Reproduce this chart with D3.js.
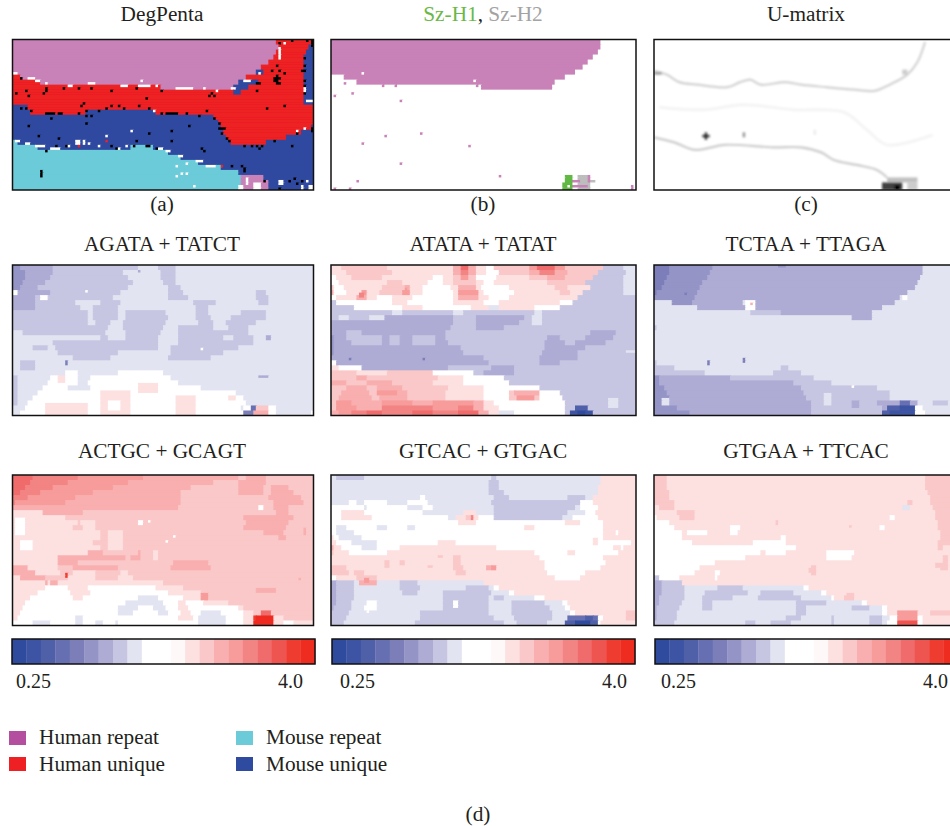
<!DOCTYPE html>
<html>
<head>
<meta charset="utf-8">
<script src="https://cdn.jsdelivr.net/npm/d3@7"></script>
<style>
html, body { margin: 0; padding: 0; background: #fff; overflow: hidden; }
text { font-family: "Liberation Serif", serif; font-size: 21.3px; fill: #231f20; }
text.tick { font-size: 20px; }
</style>
</head>
<body>
<div id="chart"></div>
<script>
// fold change steps of the colour bar, blue to red, letter a = first step
var foldColors = ['#2f4b9e', '#3c54a3', '#4f60a9', '#666fb2', '#7c7eba', '#9494c6', '#aeacd4', '#c7c6e2', '#e3e4f1', '#ffffff', '#ffffff', '#fef8f8', '#fde0e0', '#fac8c8', '#f9afaf', '#f79b9b', '#f38484', '#f06c6c', '#ee5450', '#ef3c30', '#ee2c20'];
var foldLetters = 'abcdefghijklmnopqrstu';
var legendNames = ['Human repeat', 'Human unique', 'Mouse repeat', 'Mouse unique'];
var legendColors = ['#b44f9f', '#ef2024', '#6ccbd9', '#2f4ba0'];
var subLabels = ['(a)', '(b)', '(c)'];
var barTicks = ['0.25', '4.0'];

// map rows: "letter + end column", two grid rows per string, 120 x 60 grid
var degPentaRows = ['p105 r119 b120', 'p106 r118 b120', 'p105 r117 b120', 'p104 r116 b120', 'p102 r116 b120', 'p99 r116 b120', 'p97 b100 r116 b120', 'r3 p93 r116 b120', 'r11 p90 b98 r116 b120', 'r59 p88 b94 r116 b120', 'r88 b91 r116 b120', 'r116 b120', 'r116 b120', 'b6 r120', 'b7 r29 b57 r120', 'b80 r120', 'b82 r120', 'b83 r119 b120', 'b84 r115 b120', 'b85 r109 b120', 'c2 b87 r101 b120', 'c10 b47 c56 b120', 'c62 b120', 'c67 b120', 'c74 b120', 'c83 b120', 'c90 b120', 'c91 p100 b120', 'c91 p102 b120', 'c90 p102 b120'];
var degPentaWhite = [[0, 2, 13, 14], [6, 9, 15, 16], [9, 11, 16, 17], [13, 14, 17, 18], [22, 24, 18, 19], [30, 33, 17, 18], [43, 46, 18, 19], [50, 55, 18, 19], [51, 52, 16, 17], [57, 58, 18, 19], [65, 72, 19, 20], [76, 77, 19, 20], [81, 82, 20, 21], [87, 89, 19, 20], [92, 95, 16, 17], [98, 99, 13, 14], [106, 107, 3, 8], [108, 109, 1, 2], [117, 120, 24, 25], [116, 117, 19, 21], [56, 57, 28, 29], [1, 3, 40, 41], [5, 7, 41, 42], [9, 13, 42, 43], [15, 19, 43, 44], [21, 23, 42, 43], [30, 31, 41, 42], [34, 35, 42, 43], [42, 43, 43, 44], [45, 46, 42, 43], [58, 60, 43, 44], [61, 63, 44, 45], [66, 68, 46, 47], [73, 76, 48, 49], [77, 81, 50, 51], [47, 48, 36, 37], [37, 38, 38, 39], [25, 27, 40, 42], [28, 29, 40, 42], [65, 66, 50, 51], [69, 70, 49, 50], [65, 66, 54, 55], [67, 68, 53, 54], [69, 70, 53, 54], [72, 73, 58, 59], [90, 92, 58, 60], [93, 94, 55, 58], [96, 99, 57, 60], [106, 108, 56, 58], [115, 116, 58, 60], [118, 120, 58, 60], [117, 118, 56, 57], [113, 114, 36, 37], [116, 117, 35, 36]];
var degPentaBlack = [[3, 15], [1, 21], [5, 20], [6, 22], [12, 21], [13, 19], [13, 20], [20, 19], [26, 19], [31, 19], [39, 20], [49, 19], [59, 20], [53, 23], [79, 21], [78, 22], [80, 22], [28, 25], [27, 26], [3, 27], [5, 27], [7, 28], [13, 29], [14, 29], [15, 29], [16, 29], [15, 31], [18, 29], [19, 29], [26, 29], [29, 28], [29, 30], [31, 30], [29, 33], [34, 28], [37, 27], [39, 26], [42, 26], [44, 27], [50, 26], [54, 27], [59, 29], [61, 29], [62, 29], [63, 29], [64, 29], [65, 29], [69, 29], [74, 30], [77, 28], [80, 31], [82, 33], [82, 35], [83, 35], [84, 35], [83, 37], [85, 39], [86, 40], [101, 27], [108, 26], [6, 34], [10, 38], [18, 39], [17, 42], [21, 42], [13, 44], [39, 42], [41, 43], [49, 40], [48, 42], [53, 42], [54, 42], [57, 43], [54, 37], [63, 36], [63, 40], [70, 34], [75, 43], [76, 44], [87, 50], [91, 50], [92, 51], [92, 52], [92, 42], [95, 42], [97, 42], [98, 43], [99, 42], [104, 40], [111, 42], [113, 37], [119, 36], [119, 35], [100, 56], [110, 56], [112, 55], [113, 57], [115, 56], [106, 59], [116, 7], [116, 10], [116, 12], [115, 12], [116, 16], [116, 18], [116, 21], [104, 15], [105, 15], [106, 15], [104, 16], [105, 16], [105, 17], [106, 17], [106, 12], [108, 13], [105, 14], [103, 12], [97, 17], [98, 17], [97, 20], [105, 10], [106, 1], [111, 0], [117, 0], [119, 0], [119, 1], [119, 2], [11, 52], [11, 53], [11, 54]];
var degPentaRed = [[26, 42], [37, 40], [83, 50]];

var szRows = ['p106 w120', 'p106 w120', 'p105 w120', 'p103 w120', 'p101 w120', 'p99 w120', 'p96 w120', 'w5 p92 w120', 'w10 p88 w120', 'w59 p87 w120', 'w120', 'w120', 'w120', 'w120', 'w120', 'w120', 'w120', 'w120', 'w120', 'w120', 'w120', 'w120', 'w120', 'w120', 'w120', 'w120', 'w120', 'w120', 'w120', 'w120'];
var szDots = [[5, 17], [8, 21], [1, 22], [27, 24], [35, 37], [21, 38], [12, 41], [54, 42], [27, 49], [10, 56], [66, 54], [1, 59], [7, 59], [118, 58], [118, 59], [65, 19], [12, 16], [20, 18], [25, 18], [57, 18]];
var szWhite = [[12, 13], [56, 16]];
var szH1 = [[92, 95, 54, 57], [91, 95, 57, 60]];
var szH2 = [[97, 102, 54, 60], [102, 104, 56, 57]];
var szBoth = [[95, 98, 56, 57], [95, 98, 58, 59], [101, 102, 54, 57], [98, 101, 58, 59]];

// U-matrix ridges in grid coordinates
var ridgeTop = [[0, 12.5], [5, 14], [10, 17], [17, 18], [29, 19], [34, 17], [38, 16], [42, 18], [52, 17], [58, 18], [68, 19], [79, 20], [87, 20.5], [93, 18], [100, 14], [104, 9], [107, 1]];
var ridgeBottom = [[0, 39], [8, 41], [16, 44], [28, 42], [47, 43], [58, 43], [66, 45], [71, 48], [80, 50], [88, 52], [92, 55]];
var ridgeFaint = [[2, 27], [20, 28], [35, 26], [55, 28], [75, 29], [84, 36], [92, 42], [110, 38]];
// [col0, col1, row0, row1, darkness]
var uMatrixCells = [[0, 3, 13, 14, 0.4], [92, 104, 55, 57, 0.25], [100, 104, 57, 60, 0.2], [90, 98, 57, 60, 0.75], [95, 97, 58, 60, 1], [20, 21, 37, 40, 0.7], [19, 22, 38, 39, 0.7], [20, 21, 38, 39, 1], [35, 36, 37, 39, 0.4], [63, 64, 36, 38, 0.08], [98, 100, 12, 14, 0.2]];

var agataRows = ['f3 g16 h50 i58 h65 i120', 'f5 g16 h44 i59 h65 i120', 'f5 g15 h46 i59 h65 i120', 'f4 g13 h48 i60 h65 i120', 'f3 g10 h46 i62 h67 i120', 'k2 g15 h43 i62 h68 i97 h101 i120', 'g9 h40 i62 h70 i97 h102 i120', 'g9 h25 i35 h43 i72 h81 i98 h102 i120', 'g9 h27 i32 h42 i73 h78 i120', 'h30 i32 h42 i45 h61 i73 h78 i91 h101 i120', 'h30 i32 h42 i45 h62 i73 h79 i87 h101 i120', 'h30 i33 h39 i44 h61 i74 h80 i85 h97 i120', 'h38 i44 h60 i66 h80 i86 h94 i120', 'i4 h37 i45 h59 i66 h94 i120', 'i35 h38 i45 h58 i66 h84 i88 h96 i120', 'i16 h58 i66 h96 i120', 'i8 h14 i17 h58 i63 h90 i120', 'i18 h42 i63 h84 i120', 'i24 h39 i62 h79 i120', 'i3 h9 i120', 'i3 h9 i120', 'i21 k26 i42 k60 i120', 'i15 k26 i31 k63 i120', 'i14 k26 i30 k66 i120', 'i12 k22 i31 k75 i120', 'i10 k89 i120', 'i8 k92 i120', 'i6 k93 i120', 'i5 k91 i92 k105 i120', 'i3 k92 e96 o102 k105 i119 k120'];
var agataPatches = [[0, 2, 44, 56, 'h'], [11, 14, 12, 14, 'k'], [18, 21, 44, 47, 'm'], [50, 58, 47, 51, 'm'], [35, 47, 50, 60, 'm'], [38, 43, 54, 58, 'k'], [13, 30, 55, 60, 'm'], [65, 73, 52, 60, 'm'], [86, 89, 52, 54, 'm'], [95, 97, 56, 58, 'd'], [97, 102, 56, 58, 'n'], [21, 22, 38, 40, 'e'], [50, 51, 2, 3, 'g'], [29, 30, 10, 11, 'k'], [75, 76, 33, 34, 'k'], [98, 102, 44, 45, 'g'], [101, 103, 28, 30, 'g']];

var atataRows = ['m4 n22 m48 o51 r54 o57 m61 k64 n78 p81 r88 p92 n107 h115 i120', 'm6 n24 m48 o51 q54 o57 m61 k66 n78 o82 q88 o93 n105 h116 i120', 'k2 m8 n20 m40 k44 m48 n51 p54 n57 k65 m78 n85 o92 n103 h115 i120', 'k3 m22 n28 m38 k44 m48 n57 m60 k64 m85 n100 h115 i120', 'n1 k5 m20 n29 o31 m36 k47 m50 o57 m59 k70 m88 n93 m102 h115 i120', 'o1 k6 m12 p14 m19 n28 p31 m36 k48 m50 p58 m60 k72 m90 n94 m99 h115 i120', 'k2 m10 o14 m18 k24 m32 k48 m50 o58 m62 k70 m97 h120', 'h2 k24 m30 k48 m60 k66 m90 k95 h120', 'h9 k28 m36 k55 m62 i66 m80 k90 h120', 'h24 i28 h48 i52 h80 i83 h120', 'h3 i7 h15 i21 g48 h57 g76 h79 i83 h120', 'g48 h57 g74 h79 i83 h120', 'g47 h57 g68 h120', 'g6 h12 g45 h61 h102 g112 h120', 'f1 g6 h20 g23 h27 g32 h41 g45 h61 h85 g90 h100 g111 h120', 'f1 g8 h20 g23 h27 g32 h41 g46 h61 h84 g92 h96 g108 h120', 'f1 g51 h84 g100 h120', 'f1 g52 h83 g97 h120', 'g60 h82 g97 h120', 'k2 g62 h82 g90 h120', 'm3 k12 g46 h63 g72 h120', 'n10 m22 n40 k56 h60 g72 h120', 'n10 o14 n42 m52 k68 h120', 'o6 n14 o24 n40 m52 k70 h120', 'n6 o14 n18 o28 n46 m60 k82 h120', 'n4 o15 n18 p26 o30 n45 m60 k70 n72 o82 k90 h120', 'n3 o16 n19 o30 n45 m60 k70 n73 p80 n82 k91 h120', 'n2 p8 o20 p32 o40 p56 o60 m64 k92 h120', 'n2 p10 o20 q40 p50 q56 o60 m66 k92 h120', 'o3 p8 q14 r20 q32 r40 q50 r58 o62 m66 i72 k92 h120'];
var atataPatches = [[96, 101, 56, 58, 'c'], [94, 103, 58, 60, 'b'], [97, 100, 58, 60, 'a'], [7, 8, 37, 38, 'e'], [36, 37, 37, 38, 'e'], [109, 113, 53, 57, 'i'], [64, 72, 40, 44, 'g'], [0, 1, 30, 36, 'f'], [11, 13, 11, 13, 'q'], [29, 30, 9, 11, 'p'], [116, 120, 34, 35, 'i']];

var tctaaRows = ['e6 f23 g106 i120', 'e6 f22 g106 i120', 'e5 f21 g105 i120', 'e4 f19 g104 i120', 'e3 f18 g103 i120', 'e1 f17 g100 i120', 'f16 g97 i120', 'i7 f15 g35 i39 g95 i120', 'i17 g90 i120', 'i38 h50 g86 i120', 'i78 g86 i120', 'i120', 'h1 i120', 'i120', 'i120', 'i120', 'i120', 'i120', 'i120', 'h1 i120', 'h8 i50 h53 i120', 'h20 i47 h58 i120', 'f2 g30 h63 i120', 'f2 g55 h70 i120', 'f4 g58 h88 i120', 'f5 g59 h93 i120', 'f6 g60 h93 i120', 'f6 g62 h88 g97 d101 g104 i110 h116 i120', 'f9 g62 h90 g92 c97 b103 k106 i120', 'f14 g62 h90 c93 b103 k107 i120'];
var tctaaPatches = [[36, 40, 14, 18, 'k'], [38, 39, 15, 16, 'o'], [12, 13, 11, 12, 'e'], [21, 22, 38, 40, 'e'], [35, 36, 37, 39, 'e'], [67, 70, 51, 56, 'i'], [3, 6, 53, 56, 'i'], [49, 52, 0, 1, 'f'], [78, 81, 54, 57, 'g'], [78, 79, 48, 49, 'k'], [98, 100, 12, 14, 'k']];

var actgcRows = ['r8 q26 p52 o90 n93 o101 n120', 'r7 q22 p46 o80 n90 o101 n120', 'r5 q16 p40 o71 n90 o100 n103 o110 n120', 'r3 q11 p32 o67 n90 o100 n103 o112 n115 n120', 'q6 p25 o67 n102 o115 n120', 'q1 p21 o67 n104 o116 n120', 'o66 n104 o110 n120', 'm12 o28 n105 o110 n120', 'm21 n92 o112 n120', 'm26 n27 m33 n93 o110 n120', 'm24 n28 m33 n92 o109 n120', 'm35 n38 m44 n100 o108 n120', 'm35 n38 m44 n106 o109 n120', 'm32 n38 m44 n120', 'm35 n38 m44 n120', 'm30 o36 n50 o51 n56 m58 n120', 'm18 o45 n47 o51 n56 m58 n120', 'm18 o26 n42 n64 o78 n120', 'o6 m18 n24 o42 n45 n63 o79 n120', 'o9 m19 n24 m33 n43 m46 n120', 'm3 o13 n22 m33 n42 m48 n120', 'm15 o18 m60 n120', 'm13 k22 m30 k57 m68 n120', 'm10 k23 m31 k62 m75 n120', 'm7 k24 m28 k50 i58 k68 m76 n120', 'm5 k45 i60 k66 m69 k76 m86 n120', 'm4 k42 i50 k56 i61 k66 m70 k90 m92 n120', 'm3 k42 i48 k58 i62 k67 m71 k75 i83 k92 m96 n120', 'm2 k25 i28 k66 m72 k74 i85 k92 m96 t103 m108 n120', 'k8 i15 k25 i28 k33 i36 k41 i42 k74 i85 k92 m96 u104 m108 k112 m120'];
var actgcPatches = [[1, 5, 17, 24, 'k'], [3, 8, 26, 30, 'k'], [21, 22, 39, 41, 't'], [13, 14, 42, 44, 'o'], [25, 26, 34, 35, 'o'], [75, 78, 47, 50, 'p'], [114, 115, 41, 42, 'o'], [116, 117, 21, 24, 'o'], [98, 100, 12, 14, 'k'], [50, 52, 18, 20, 'k'], [54, 55, 18, 19, 'k'], [64, 65, 24, 25, 'k'], [61, 62, 26, 27, 'k'], [97, 104, 56, 60, 'u'], [99, 103, 54, 56, 'r'], [96, 98, 54, 56, 'n'], [97, 105, 45, 47, 'o']];

var gtcacRows = ['i2 h13 i63 h65 i106 m120', 'i62 h66 i106 m120', 'i62 h66 i105 m120', 'i62 h68 i105 m120', 'i35 k37 i64 h70 i93 h100 i103 m120', 'i7 k10 i13 k22 i30 k38 i63 h98 k103 m120', 'k13 i14 k30 i36 k40 i64 h96 i98 k105 m120', 'k4 m13 k36 i52 m57 i64 h93 i100 k104 m120', 'k4 m16 k46 i49 m53 n56 m58 k64 h91 i95 k105 m120', 'k50 m54 m57 k92 m98 k107 m120', 'k2 i6 k18 i22 k30 i33 k76 m80 k107 m120', 'k2 i9 k107 m112 k113 m120', 'm1 k3 i12 k107 m120', 'm2 k8 i18 k42 m49 k110 k118 m120', 'o1 m4 k12 i18 k27 m65 k115 m120', 'n1 m7 k22 m80 k93 m96 k113 m120', 'm82 k107 m120', 'm84 k108 m120', 'n6 m48 n52 m61 o65 m84 k106 m120', 'n7 m9 n13 m49 n53 m85 k100 m120', 'k2 m10 n18 m88 k98 m120', 'g2 h9 i11 o18 i27 h34 i60 m120', 'g2 h9 i27 h35 i53 h62 i64 k66 m120', 'g2 h9 i28 h34 i44 h63 i70 k72 m120', 'g2 h9 i44 h62 i64 h68 i80 k84 m120', 'g2 h8 i14 k18 i44 h62 i71 h84 i91 k93 m120', 'g1 h8 i13 k18 i44 h62 i71 h86 i92 k94 m120', 'h7 i35 h62 i71 h87 i94 k96 m116 n120', 'h6 i35 h64 i72 h87 i93 d100 c103 d105 k107 m116 n120', 'h5 i33 h68 i73 h85 i92 c96 a102 c105 k106 m120'];
var gtcacPatches = [[55, 56, 16, 18, 'q'], [63, 65, 36, 38, 'p'], [13, 15, 41, 43, 'p'], [48, 51, 32, 38, 'n'], [27, 29, 34, 36, 'n'], [21, 23, 34, 37, 'n'], [42, 44, 32, 33, 'n'], [33, 34, 2, 7, 'i'], [85, 88, 26, 27, 'k'], [111, 114, 28, 30, 'm'], [14, 15, 54, 55, 'k'], [48, 50, 50, 53, 'k'], [38, 40, 36, 37, 'n'], [103, 105, 25, 28, 'm']];

var gtgaaRows = ['n5 m107 n120', 'n5 m107 n120', 'n5 m107 n120', 'n6 m108 n120', 'n6 m109 n120', 'n8 m109 n120', 'm2 n8 m98 i101 m110 n120', 'm9 n15 m111 n120', 'k1 m10 n15 m93 k95 m111 n120', 'k6 m48 n49 m112 n120', 'k8 m30 k34 m89 k91 m112 n120', 'k11 m13 k21 m30 k33 m113 n120', 'k11 m50 k52 m113 n120', 'k15 m39 k52 m112 n120', 'k56 m112 n114 m120', 'k42 m44 k52 m68 k79 m120', 'k36 m68 k78 m114 n116 m120', 'k24 m114 n116 m120', 'k18 m62 n64 m113 n116 m120', 'k16 m24 k26 m62 n64 m120', 'h2 k10 m24 k25 m120', 'g3 h11 m120', 'g3 h12 i25 h35 i59 k61 m120', 'g3 h12 i20 h37 i42 h55 i66 k68 m120', 'g2 h12 i19 h31 i41 h58 i70 k71 m75 n78 m120', 'g2 h11 i19 h23 i56 h68 i82 k84 m120', 'g1 h10 i19 h23 i56 h60 i78 h85 i90 k92 m120', 'g1 h9 i56 h60 i90 k92 m109 n118 m120', 'g1 h9 i52 h58 i70 h71 i85 h90 i93 k96 p104 k106 m120', 'h8 i36 h40 i46 h54 i70 h71 i85 h90 i92 k96 s104 k106 m120'];
var gtgaaPatches = [[10, 16, 14, 18, 'n'], [61, 63, 37, 39, 'n'], [48, 49, 18, 20, 'n'], [77, 78, 20, 21, 'n'], [111, 114, 35, 37, 'n'], [100, 102, 10, 12, 'n'], [76, 79, 47, 50, 'n'], [96, 104, 54, 56, 'p']];

var foldMaps = [
    { title: 'AGATA + TATCT', rows: agataRows, patches: agataPatches },
    { title: 'ATATA + TATAT', rows: atataRows, patches: atataPatches },
    { title: 'TCTAA + TTAGA', rows: tctaaRows, patches: tctaaPatches },
    { title: 'ACTGC + GCAGT', rows: actgcRows, patches: actgcPatches },
    { title: 'GTCAC + GTGAC', rows: gtcacRows, patches: gtcacPatches },
    { title: 'GTGAA + TTCAC', rows: gtgaaRows, patches: gtgaaPatches }
];

var colX = [12.5, 331, 654];
var rowY = [39.5, 265, 475];
var panelW = [301, 305, 304];
var panelH = 150.5;
var nCols = 120, nRows = 60;
var titleY = [21, 251, 458];
var topCenter = [162, 483, 806];

var svg = d3.select('#chart').append('svg').attr('width', 950).attr('height', 826);
var defs = svg.append('defs');
defs.append('filter').attr('id', 'soft').append('feGaussianBlur').attr('stdDeviation', 0.6);
defs.append('filter').attr('id', 'softer').append('feGaussianBlur').attr('stdDeviation', 1);

// log2 fold change -2..2 => colour bar step
var foldScale = d3.scaleQuantize().domain([-2, 2]).range(foldColors);
function letterValue(c) {
    return -2 + (foldLetters.indexOf(c) + 0.5) * 4 / foldColors.length;
}
var classScale = d3.scaleOrdinal()
    .domain(['p', 'r', 'b', 'c', 'w', 'k', 'g', 'y'])
    .range(['#c882b8', '#ed2024', '#2f4a9f', '#6ccbd9', '#ffffff', '#000000', '#62b844', '#bdbdbd']);
var greyScale = d3.scaleLinear().domain([0, 1]).range(['#ffffff', '#000000']);

// expand rows to a cell matrix
function toGrid(rows) {
    var grid = [];
    rows.forEach(function (s) {
        var line = [];
        s.split(' ').forEach(function (run) {
            var end = +run.slice(1);
            while (line.length < end) line.push(run[0]);
        });
        grid.push(line, line.slice());
    });
    return grid;
}
function paint(grid, patches, letter) {
    patches.forEach(function (p) {
        for (var r = p[2]; r < p[3]; r++) {
            for (var c = p[0]; c < p[1]; c++) grid[r][c] = letter || p[4];
        }
    });
}
function dots(list) {
    return list.map(function (d) { return [d[0], d[0] + 1, d[1], d[1] + 1]; });
}
// merge equal neighbours so one row is a few rects
function toRuns(grid) {
    var runs = [];
    grid.forEach(function (line, r) {
        var start = 0;
        for (var c = 1; c <= line.length; c++) {
            if (c == line.length || line[c] != line[start]) {
                runs.push({ r: r, c: start, n: c - start, v: line[start] });
                start = c;
            }
        }
    });
    return runs;
}

function addPanel(px, py, w) {
    var id = 'clip' + Math.round(px) + '_' + Math.round(py);
    defs.append('clipPath').attr('id', id)
        .append('rect').attr('x', px).attr('y', py).attr('width', w).attr('height', panelH);
    var g = svg.append('g').attr('clip-path', 'url(#' + id + ')').append('g');
    var x = d3.scaleBand().domain(d3.range(nCols)).range([px, px + w]);
    var y = d3.scaleBand().domain(d3.range(nRows)).range([py, py + panelH]);
    return { g: g, x: x, y: y, px: px, py: py, w: w };
}
function drawCells(p, grid, color) {
    p.g.attr('filter', 'url(#soft)').selectAll('rect').data(toRuns(grid)).enter().append('rect')
        .attr('x', function (d) { return p.x(d.c); })
        .attr('y', function (d) { return p.y(d.r); })
        .attr('width', function (d) { return p.x.step() * d.n + 1; })
        .attr('height', p.y.step() + 1)
        .attr('fill', function (d) { return color(d.v); });
}
function drawFrame(p) {
    svg.append('rect').attr('x', p.px).attr('y', p.py).attr('width', p.w).attr('height', panelH)
        .attr('fill', 'none').attr('stroke', '#111').attr('stroke-width', 1.5);
}

// (a)
var pa = addPanel(colX[0], rowY[0], panelW[0]);
var gridA = toGrid(degPentaRows);
paint(gridA, degPentaWhite, 'w');
paint(gridA, dots(degPentaBlack), 'k');
paint(gridA, dots(degPentaRed), 'r');
drawCells(pa, gridA, classScale);
drawFrame(pa);

// (b)
var pb = addPanel(colX[1], rowY[0], panelW[1]);
var gridB = toGrid(szRows);
paint(gridB, dots(szDots), 'p');
paint(gridB, dots(szWhite), 'w');
paint(gridB, szH1, 'g');
paint(gridB, szH2, 'y');
paint(gridB, szBoth, 'p');
gridB[58][93] = 'w';
drawCells(pb, gridB, classScale);
drawFrame(pb);

// (c)
var pc = addPanel(colX[2], rowY[0], panelW[2]);
pc.g.attr('filter', 'url(#softer)');
var line = d3.line().curve(d3.curveCatmullRom)
    .x(function (d) { return pc.x.range()[0] + d[0] * pc.x.step(); })
    .y(function (d) { return pc.y.range()[0] + d[1] * pc.y.step(); });
[[ridgeFaint, '#f4f4f4', 3], [ridgeTop, '#d2d2d2', 2.2], [ridgeBottom, '#cccccc', 2.2]].forEach(function (r) {
    pc.g.append('path').attr('d', line(r[0])).attr('fill', 'none').attr('stroke', r[1]).attr('stroke-width', r[2]);
});
pc.g.selectAll('rect').data(uMatrixCells).enter().append('rect')
    .attr('x', function (d) { return pc.x(d[0]); })
    .attr('y', function (d) { return pc.y(d[2]); })
    .attr('width', function (d) { return pc.x.step() * (d[1] - d[0]); })
    .attr('height', function (d) { return pc.y.step() * (d[3] - d[2]); })
    .attr('fill', function (d) { return greyScale(d[4]); });
drawFrame(pc);

// fold change maps
foldMaps.forEach(function (m, i) {
    var col = i % 3, row = Math.floor(i / 3) + 1;
    var p = addPanel(colX[col], rowY[row], panelW[col]);
    var grid = toGrid(m.rows);
    paint(grid, m.patches);
    drawCells(p, grid, function (c) { return foldScale(letterValue(c)); });
    drawFrame(p);
    svg.append('text').attr('x', topCenter[col]).attr('y', titleY[row])
        .attr('text-anchor', 'middle').text(m.title);
});

// titles of the top row
svg.append('text').attr('x', topCenter[0]).attr('y', titleY[0]).attr('text-anchor', 'middle').text('DegPenta');
svg.append('text').attr('x', topCenter[2]).attr('y', titleY[0]).attr('text-anchor', 'middle').text('U-matrix');
var szTitle = svg.append('text').attr('x', topCenter[1]).attr('y', titleY[0]).attr('text-anchor', 'middle');
szTitle.append('tspan').style('fill', '#6ab945').text('Sz-H1');
szTitle.append('tspan').text(', ');
szTitle.append('tspan').style('fill', '#a3a3a3').text('Sz-H2');
subLabels.forEach(function (s, i) {
    svg.append('text').attr('x', topCenter[i]).attr('y', 211).attr('text-anchor', 'middle').text(s);
});
svg.append('text').attr('x', 478).attr('y', 821).attr('text-anchor', 'middle').text('(d)');

// colour bars
var barX = [12, 332, 655];
var barW = 303;
var tickLeft = [16, 340, 661];
var tickRight = [303, 627, 948];
barX.forEach(function (bx, i) {
    var bar = d3.scaleBand().domain(d3.range(foldColors.length)).range([bx, bx + barW]);
    svg.append('g').selectAll('rect').data(foldColors).enter().append('rect')
        .attr('x', function (d, k) { return bar(k); })
        .attr('y', 639)
        .attr('width', bar.step() + 0.3)
        .attr('height', 25)
        .attr('fill', function (d) { return d; });
    svg.append('rect').attr('x', bx).attr('y', 639).attr('width', barW).attr('height', 25)
        .attr('fill', 'none').attr('stroke', '#111').attr('stroke-width', 1.5);
    svg.append('text').attr('class', 'tick').attr('x', tickLeft[i]).attr('y', 688).text(barTicks[0]);
    svg.append('text').attr('class', 'tick').attr('x', tickRight[i]).attr('y', 688).attr('text-anchor', 'end').text(barTicks[1]);
});

// legend
var legendX = [9, 236];
var legendY = [731, 757];
legendNames.forEach(function (name, i) {
    var lx = legendX[Math.floor(i / 2)], ly = legendY[i % 2];
    svg.append('rect').attr('x', lx).attr('y', ly).attr('width', 17).attr('height', 14).attr('fill', legendColors[i]);
    svg.append('text').attr('x', lx + 30).attr('y', ly + 13 + (i % 2)).text(name);
});
</script>
</body>
</html>
